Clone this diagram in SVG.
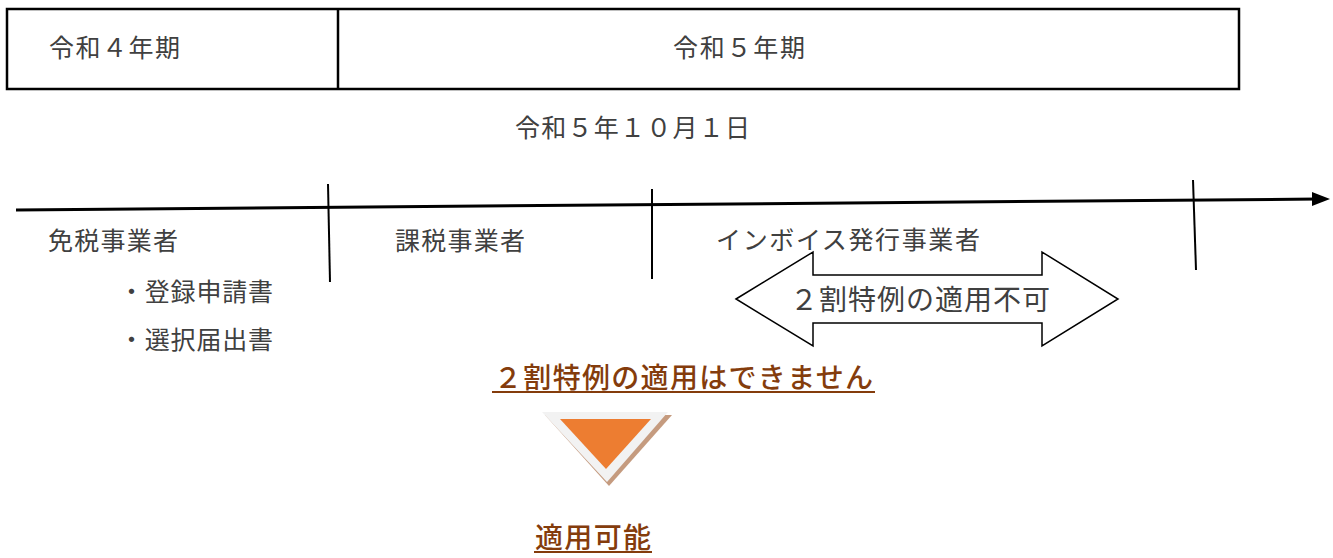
<svg xmlns="http://www.w3.org/2000/svg" width="1333" height="558" viewBox="0 0 1333 558">
<defs>
<style>
.t{font-family:"Noto Sans CJK JP","Noto Sans",sans-serif;fill:#404040;dominant-baseline:central}
.b{font-family:"Noto Sans CJK JP","Noto Sans",sans-serif;fill:#843C0C;font-weight:500;dominant-baseline:central}
.ln{stroke:#000;stroke-width:2;fill:none}
</style>
</defs>
<rect width="1333" height="558" fill="#fff"/>
<g id="period-header">
<rect x="7" y="9" width="1232" height="80" fill="#fff" stroke="#000" stroke-width="2.5"/>
<line x1="338" y1="9" x2="338" y2="89" stroke="#000" stroke-width="2.5"/>
<text class="t" x="49" y="46" font-size="25" textLength="131">令和４年期</text>
<text class="t" x="673" y="46" font-size="25" textLength="132">令和５年期</text>
</g>
<g id="date-label"><text class="t" x="515" y="126" font-size="25" textLength="235">令和５年１０月１日</text></g>
<g id="connectors">
<line x1="16" y1="210" x2="1318" y2="199" stroke="#000" stroke-width="3"/>
<path d="M1312,192 L1330,199 L1312,206 z" fill="#000"/>
<line class="ln" x1="328" y1="184" x2="330" y2="282"/>
<line class="ln" x1="652" y1="189" x2="652" y2="279"/>
<line class="ln" x1="1193" y1="180" x2="1196" y2="270"/>
</g>
<g id="tax-exempt">
<text class="t" x="48" y="239" font-size="25" textLength="130">免税事業者</text>
<text class="t" x="119" y="290" font-size="25" textLength="154">・登録申請書</text>
<text class="t" x="119" y="338" font-size="25" textLength="154">・選択届出書</text>
</g>
<g id="taxable"><text class="t" x="395" y="239" font-size="25" textLength="130">課税事業者</text></g>
<g id="invoice-issuer"><text class="t" x="716" y="238" font-size="25" textLength="264">インボイス発行事業者</text></g>
<g id="not-applicable">
<polygon points="736,299 813,252 813,275 1042,275 1042,252 1118,299 1042,346 1042,323 813,323 813,346" fill="#fff" stroke="#000" stroke-width="1.5"/>
<text class="t" x="790" y="298" font-size="28" textLength="260">２割特例の適用不可</text>
</g>
<g id="cannot-apply">
<text class="b" x="494" y="376" font-size="28" textLength="379">２割特例の適用はできません</text>
<line x1="492" y1="392" x2="875" y2="392" stroke="#843C0C" stroke-width="2"/>
</g>
<g id="down-triangle">
<polygon points="545,415 672,415 609,486" fill="#C59B7F"/>
<polygon points="542,412 668,412 607,482" fill="#F2F2F2"/>
<polygon points="560,419 651,419 606,469" fill="#ED7D31"/>
</g>
<g id="applicable">
<text class="b" x="535" y="536" font-size="28" textLength="116">適用可能</text>
<line x1="534" y1="552" x2="652" y2="552" stroke="#843C0C" stroke-width="2"/>
</g>
</svg>
